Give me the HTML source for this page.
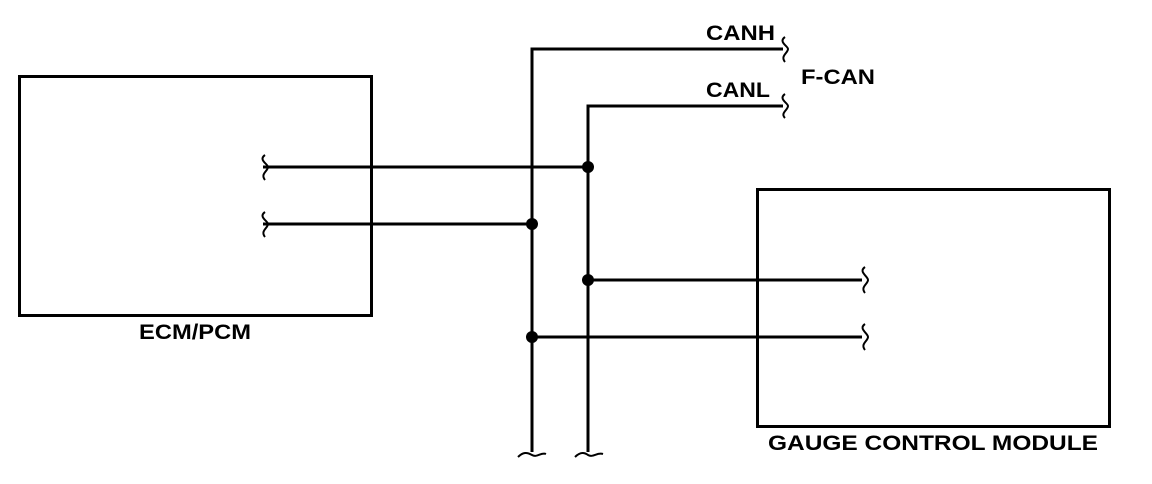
<!DOCTYPE html>
<html><head><style>body{margin:0;background:#fff}</style></head><body>
<svg width="1152" height="484" viewBox="0 0 1152 484" xmlns="http://www.w3.org/2000/svg" style="display:block">
<g fill="none" stroke="#000" stroke-width="3">
<rect x="19.5" y="76.5" width="352" height="239"/>
<rect x="757.5" y="189.5" width="352" height="237"/>
<polyline points="783,49 532,49 532,452"/>
<polyline points="783,106 588,106 588,452"/>
<line x1="263" y1="167" x2="588" y2="167"/>
<line x1="263" y1="224" x2="532" y2="224"/>
<line x1="588" y1="280" x2="862" y2="280"/>
<line x1="532" y1="337" x2="862" y2="337"/>
</g>
<g fill="none" stroke="#000" stroke-width="2">
<path d="M785,37 C778,42 788,46 788,49 C788,53 780,56 785,62"/>
<path d="M785,94 C778,99 788,103 788,106 C788,110 780,113 785,118"/>
<path d="M265,155 C258,160 268,164 268,167 C268,171 260,174 265,180"/>
<path d="M265,212 C258,217 268,221 268,224 C268,228 260,231 265,237"/>
<path d="M865,267 C858,272 868,276 868,280 C868,284 860,287 865,293"/>
<path d="M865,324 C858,329 868,333 868,337 C868,341 860,344 865,350"/>
<path d="M518,457 C523,452 527,452 532,455 C537,458 541,452 546,454"/>
<path d="M575,457 C580,452 584,452 588,455 C593,458 597,452 603,454"/>
</g>
<g fill="#000">
<circle cx="588" cy="167" r="6"/>
<circle cx="532" cy="224" r="6"/>
<circle cx="588" cy="280" r="6"/>
<circle cx="532" cy="337" r="6"/>
</g>
<g font-family="Liberation Sans, sans-serif" font-weight="bold" font-size="21" fill="#000" lengthAdjust="spacingAndGlyphs">
<text x="706" y="40" textLength="69" lengthAdjust="spacingAndGlyphs">CANH</text>
<text x="706" y="97" textLength="64" lengthAdjust="spacingAndGlyphs">CANL</text>
<text x="801" y="84" textLength="74" lengthAdjust="spacingAndGlyphs">F-CAN</text>
<text x="139" y="339" textLength="112" lengthAdjust="spacingAndGlyphs">ECM/PCM</text>
<text x="768" y="450" textLength="330" lengthAdjust="spacingAndGlyphs">GAUGE CONTROL MODULE</text>
</g>
</svg>
</body></html>
